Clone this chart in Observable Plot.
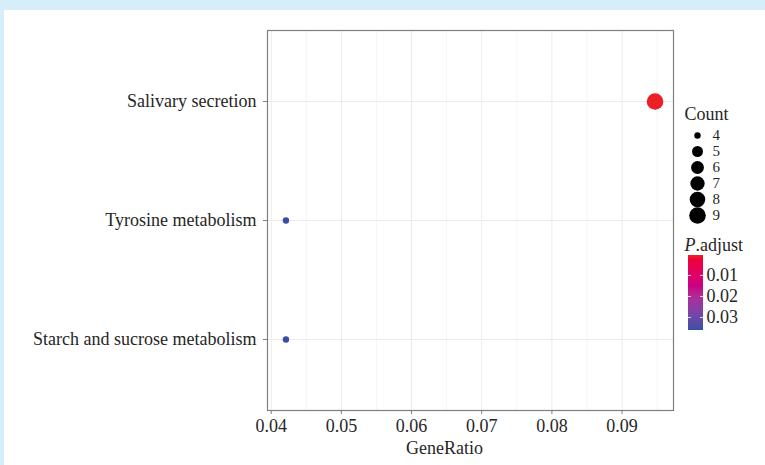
<!DOCTYPE html>
<html>
<head>
<meta charset="utf-8">
<script src="https://cdn.jsdelivr.net/npm/d3@7"></script>
<script src="https://cdn.jsdelivr.net/npm/@observablehq/plot@0.6"></script>
<style>
  html, body { margin: 0; padding: 0; }
  #page { position: relative; width: 765px; height: 465px; background: #d6eef9; overflow: hidden; }
  #inner { position: absolute; left: 4px; top: 10px; right: 0; bottom: 0; background: #ffffff; }
  .layer { position: absolute; }
  svg text { font-family: "Liberation Serif", "DejaVu Serif", serif; }
</style>
</head>
<body>
<div id="page"><div id="inner"></div></div>
<script>
// ---- data ----
const pathways = ["Salivary secretion", "Tyrosine metabolism", "Starch and sucrose metabolism"];
const geneRatio = [0.0947, 0.0421, 0.0421];
const counts = [9, 4, 4];
const pAdjust = [0.0005, 0.0362, 0.0362];
const xTicks = [0.04, 0.05, 0.06, 0.07, 0.08, 0.09];
const xMinorTicks = [0.045, 0.055, 0.065, 0.075, 0.085, 0.095];
const countBreaks = [4, 5, 6, 7, 8, 9];
const pBreaks = [0.01, 0.02, 0.03];

const rows = pathways.map((p, i) => ({pathway: p, ratio: geneRatio[i], count: counts[i], p: pAdjust[i]}));

const FONT = "Liberation Serif, DejaVu Serif, serif";
const TEXT = "#262626";
const lowColor = "#ec1f27", highColor = "#3a4fa2";
const pDomain = [d3.min(pAdjust), d3.max(pAdjust)];
const colorScale = {type: "linear", domain: pDomain, range: [lowColor, highColor], interpolate: "hcl"};
const cMin = d3.min(counts), cMax = d3.max(counts);
const rScale = {type: "pow", exponent: 0.5, domain: [0, cMax - cMin], range: [3.2, 8.3]};

// ggplot-like 5% expansion
const xr = d3.extent(geneRatio); const ex = (xr[1] - xr[0]) * 0.05;
const page = document.getElementById("page");

const main = Plot.plot({
  width: 765, height: 465,
  marginLeft: 267, marginRight: 92, marginTop: 30, marginBottom: 55,
  style: {background: "transparent", fontFamily: FONT, fontSize: "18px", color: TEXT, overflow: "visible"},
  x: {domain: [xr[0] - ex, xr[1] + ex]},
  y: {type: "point", domain: pathways, padding: 0.59},
  r: rScale,
  color: colorScale,
  marks: [
    Plot.gridX(xMinorTicks, {stroke: "#ededed", strokeOpacity: 1, strokeWidth: 0.6}),
    Plot.gridX(xTicks, {stroke: "#ebebeb", strokeOpacity: 1, strokeWidth: 1}),
    Plot.gridY(pathways, {stroke: "#ebebeb", strokeOpacity: 1, strokeWidth: 1}),
    Plot.axisX(xTicks, {tickSize: 4, tickPadding: 5, stroke: "#7f7f7f", fill: TEXT, tickFormat: d => d.toFixed(2), label: null, fontSize: 18}),
    Plot.axisY(pathways, {tickSize: 4, tickPadding: 7, stroke: "#7f7f7f", fill: TEXT, label: null, fontSize: 18}),
    Plot.text(["GeneRatio"], {frameAnchor: "bottom", dx: -26, dy: 43, fill: TEXT, fontSize: 18}),
    Plot.dot(rows, {x: "ratio", y: "pathway", r: d => d.count - cMin, fill: "p", stroke: null}),
    Plot.frame({stroke: "#7f7f7f", strokeWidth: 1.2})
  ]
});
main.classList.add("layer"); main.style.left = "0px"; main.style.top = "0px";
page.appendChild(main);

// size legend
const sizeLegend = Plot.plot({
  width: 80, height: 125,
  marginLeft: 0, marginRight: 0, marginTop: 29, marginBottom: 15,
  style: {background: "transparent", fontFamily: FONT, fontSize: "18px", color: TEXT, overflow: "visible"},
  y: {type: "point", domain: countBreaks, padding: 0, axis: null},
  r: rScale,
  marks: [
    Plot.text(["Count"], {frameAnchor: "top-left", dx: 14, dy: -20, textAnchor: "start", lineAnchor: "middle", fill: TEXT, fontSize: 18}),
    Plot.dot(countBreaks, {y: d => d, r: d => d - cMin, frameAnchor: "left", dx: 27, fill: "black", stroke: null}),
    Plot.text(countBreaks, {y: d => d, text: d => String(d), frameAnchor: "left", dx: 42, textAnchor: "start", lineAnchor: "middle", fill: TEXT, fontSize: 15})
  ]
});
sizeLegend.classList.add("layer"); sizeLegend.style.left = "670px"; sizeLegend.style.top = "105px";
page.appendChild(sizeLegend);

// color legend (vertical bar)
const nb = 75;
const bins = d3.range(nb).map(i => [pDomain[0] + (pDomain[1] - pDomain[0]) * i / nb, pDomain[0] + (pDomain[1] - pDomain[0]) * (i + 1) / nb]);
const colorLegend = Plot.plot({
  width: 90, height: 110,
  marginLeft: 18, marginRight: 57, marginTop: 20, marginBottom: 15,
  style: {background: "transparent", fontFamily: FONT, fontSize: "18px", color: TEXT, overflow: "visible"},
  y: {domain: pDomain, reverse: true},
  color: colorScale,
  marks: [
    Plot.rect(bins, {y1: d => d[0], y2: d => d[1], fill: d => (d[0] + d[1]) / 2, shapeRendering: "crispEdges"}),
    Plot.tickY(pBreaks, {y: d => d, stroke: "white", strokeWidth: 0.8, insetRight: 12}),
    Plot.tickY(pBreaks, {y: d => d, stroke: "white", strokeWidth: 0.8, insetLeft: 12}),
    Plot.axisY(pBreaks, {anchor: "right", tickSize: 0, tickPadding: 3, tickFormat: d => d.toFixed(2), label: null, fill: TEXT, fontSize: 18}),
    Plot.text(["P.adjust"], {frameAnchor: "top-left", dx: -4, dy: -10, textAnchor: "start", lineAnchor: "middle", fill: TEXT, fontSize: 18})
  ]
});
colorLegend.classList.add("layer"); colorLegend.style.left = "670px"; colorLegend.style.top = "235px";
page.appendChild(colorLegend);

// italic P in legend title
d3.select(colorLegend).selectAll("text").filter(function() { return this.textContent === "P.adjust"; })
  .each(function() {
    const t = d3.select(this);
    t.text(null);
    t.append("tspan").attr("font-style", "italic").text("P");
    t.append("tspan").text(".adjust");
  });
</script>
</body>
</html>
